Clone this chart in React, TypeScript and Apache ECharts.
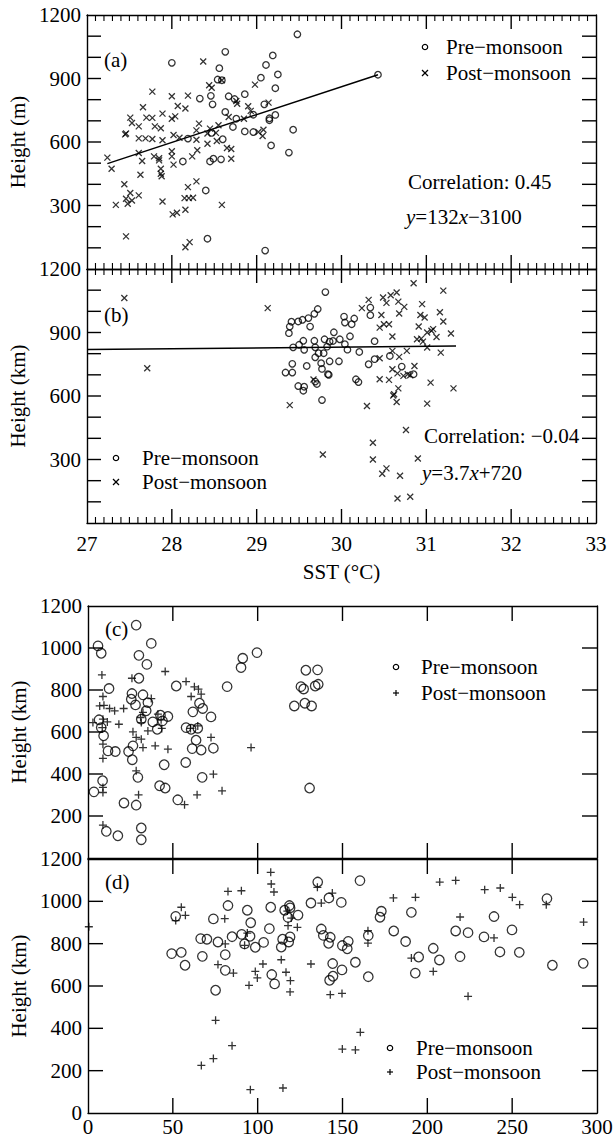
import React, { useEffect, useRef } from 'react';
import * as echarts from 'echarts';

// ---------- data ----------
const sstTicks = [27, 28, 29, 30, 31, 32, 33];
const distTicks = [0, 50, 100, 150, 200, 250, 300];
const heightTicks100 = [100, 200, 300, 400, 500, 600, 700, 800, 900, 1000, 1100];
const heightTicks200 = [200, 400, 600, 800, 1000];
const legendNames = ['Pre−monsoon', 'Post−monsoon'];

const aPre: number[][] = [
  [29.48, 1109], [28.63, 1026], [28.0, 974], [29.19, 1009], [29.11, 964], [29.25, 919], [28.56, 949],
  [28.54, 895], [28.59, 892], [29.05, 904], [29.22, 854], [28.33, 805], [28.46, 818], [28.48, 778],
  [28.67, 816], [28.74, 803], [28.86, 826], [28.63, 742], [28.96, 729], [29.22, 728], [29.15, 703],
  [29.15, 712], [29.09, 778], [28.72, 671], [28.86, 650], [28.47, 643], [29.43, 658], [29.17, 584],
  [29.38, 550], [28.19, 616], [28.13, 508], [28.45, 508], [28.49, 521], [28.58, 518], [28.4, 371],
  [28.42, 143], [29.1, 87], [28.76, 710], [28.96, 647], [28.6, 613], [30.43, 918],
];
const aPost: number[][] = [
  [28.37, 980], [28.98, 871], [27.77, 838], [28.0, 816], [28.19, 819], [28.44, 868], [28.47, 856],
  [28.07, 770], [28.16, 758], [27.66, 764], [27.89, 734], [27.51, 715], [27.53, 690], [27.7, 715],
  [27.77, 714], [28.0, 710], [28.04, 721], [27.61, 674], [27.8, 674], [27.87, 665], [27.45, 636],
  [27.46, 640], [27.61, 617], [27.69, 617], [27.77, 614], [27.89, 608], [28.02, 633], [28.09, 620],
  [28.29, 655], [28.32, 687], [28.29, 611], [28.42, 640], [28.45, 663], [28.52, 643], [28.55, 679],
  [28.53, 605], [28.67, 718], [28.77, 781], [28.9, 769], [28.93, 747], [28.85, 710], [29.08, 658],
  [29.02, 647], [29.07, 628], [29.14, 786], [28.42, 592], [28.3, 561], [28.24, 532], [28.0, 532],
  [28.0, 556], [28.02, 493], [27.79, 532], [27.85, 523], [27.85, 513], [27.65, 510], [27.61, 548],
  [27.24, 526], [27.29, 474], [27.87, 474], [27.87, 450], [27.88, 438], [27.63, 445], [28.65, 572],
  [28.7, 567], [28.7, 521], [27.44, 400], [27.51, 359], [27.34, 303], [27.48, 308], [27.53, 324],
  [27.46, 332], [27.61, 348], [27.89, 319], [28.19, 387], [28.29, 414], [28.15, 335], [28.2, 335],
  [28.25, 337], [28.59, 303], [28.01, 258], [28.06, 266], [28.16, 280], [27.46, 154], [28.16, 103],
  [28.21, 127], [28.59, 892], [28.76, 794],
];
const aFit: number[][] = [[27.24, 498], [30.43, 918]];

const bPre: number[][] = [
  [29.81, 1091], [30.03, 975], [30.04, 947], [30.12, 939], [30.15, 966], [30.34, 1018], [30.34, 982],
  [29.91, 901], [30.1, 882], [29.8, 868], [29.83, 833], [29.86, 857], [29.9, 860], [29.98, 868],
  [30.04, 845], [30.07, 819], [30.21, 808], [30.39, 859], [29.79, 802], [29.86, 764], [29.97, 764],
  [30.32, 750], [30.39, 774], [30.71, 739], [30.57, 789], [30.85, 703], [29.84, 703], [30.17, 679],
  [30.2, 666], [29.77, 581], [29.72, 1011], [29.68, 988], [29.61, 968], [29.54, 960], [29.49, 952],
  [29.41, 951], [29.39, 928], [29.63, 928], [29.38, 897], [29.55, 861], [29.68, 861], [29.43, 830],
  [29.5, 842], [29.56, 818], [29.69, 830], [29.73, 802], [29.69, 783], [29.42, 752], [29.59, 742],
  [29.76, 755], [29.77, 728], [29.85, 700], [29.34, 711], [29.42, 711], [29.49, 647], [29.56, 644],
  [29.55, 625], [29.69, 668], [29.71, 657],
];
const bPost: number[][] = [
  [27.44, 1063], [29.13, 1015], [27.71, 731], [29.39, 557], [29.78, 324], [29.67, 678],
  [30.85, 1133], [31.2, 1098], [30.32, 1054], [30.24, 1015], [30.49, 1065], [30.58, 1076], [30.65, 1089],
  [30.53, 1040], [30.67, 1046], [30.74, 1021], [30.68, 990], [30.95, 1034], [30.93, 983], [30.98, 971],
  [31.16, 996], [31.2, 952], [30.47, 983], [30.45, 923], [30.5, 939], [30.56, 939], [30.6, 881],
  [30.91, 928], [31.08, 916], [31.06, 908], [31.01, 900], [31.12, 879], [30.89, 868], [30.94, 871],
  [30.96, 857], [31.29, 895], [31.01, 829], [31.17, 805], [30.6, 813], [30.68, 785], [30.77, 813],
  [30.45, 778], [30.6, 726], [30.66, 707], [30.73, 695], [30.86, 742], [30.78, 703], [30.81, 698],
  [30.45, 679], [30.56, 676], [31.05, 663], [31.32, 636], [30.67, 636], [30.62, 608], [30.61, 602],
  [30.65, 572], [30.3, 553], [31.01, 564], [30.76, 439], [30.37, 379], [30.37, 300], [30.9, 305],
  [30.48, 233], [30.53, 258], [30.69, 223], [30.66, 116], [30.81, 124],
];
const bFit: number[][] = [[27.0, 820], [31.35, 836]];

const cPre: number[][] = [
  [28.4, 1109], [5.9, 1010], [7.8, 975], [37.3, 1022], [30, 965], [34.7, 922], [30, 856], [12.4, 807],
  [52, 819], [82, 816], [25.9, 783], [32.4, 777], [25.5, 756], [28, 729], [35.3, 740], [34.3, 701],
  [42.7, 680], [47.1, 674], [31.4, 661], [38.2, 648], [40.8, 613], [43.9, 653], [6.5, 658], [7.8, 621],
  [9.2, 582], [61.8, 696], [65.7, 737], [67.6, 712], [72.5, 672], [57.8, 621], [60.8, 613], [64.7, 618],
  [63.7, 561], [61.4, 521], [66.7, 514], [73.9, 523], [11.8, 510], [16.1, 507], [23.9, 507], [26.5, 534],
  [26.1, 468], [44.9, 444], [57.6, 455], [29.4, 384], [67.3, 384], [8.6, 368], [3.5, 315], [42.2, 344],
  [45.5, 333], [21.2, 262], [28.4, 252], [52.9, 277], [10.8, 127], [17.6, 106], [31.4, 143], [31.4, 87],
  [90.2, 907], [91.2, 951], [99.6, 978], [128.4, 894], [135.3, 896], [125.5, 816], [127.1, 805],
  [133.9, 819], [135.7, 827], [121.6, 724], [127.8, 737], [131.8, 724], [130.6, 333],
];
const cPost: number[][] = [
  [8.2, 872], [25.9, 856], [45.5, 888], [57.8, 840], [62.7, 815], [60.8, 769], [65.1, 804], [66.7, 780],
  [8.8, 769], [6.9, 724], [9.4, 727], [12.7, 712], [15.7, 701], [21, 712], [37.3, 759], [2.9, 645],
  [8.8, 661], [11.4, 648], [18.2, 637], [8.4, 621], [26.5, 601], [32.4, 693], [31, 669], [31.4, 645],
  [35.3, 605], [41.2, 685], [43.1, 658], [43.5, 617], [28.4, 574], [31.4, 566], [32.4, 526], [39.6, 534],
  [47.1, 518], [8.8, 542], [8.8, 474], [60.4, 617], [64.7, 629], [72.5, 574], [96.1, 526], [28.4, 415],
  [8.8, 336], [8.8, 312], [73.9, 399], [79, 320], [64.3, 301], [29.8, 301], [56.9, 254], [8.8, 157],
];

const dPre: number[][] = [
  [51.7, 929], [49.3, 753], [55, 759], [57.2, 698], [66.4, 824], [70.1, 821], [67.4, 740], [73.9, 917],
  [75.2, 580], [76.6, 808], [80.9, 748], [80.9, 674], [82.5, 980], [84.9, 833], [90.6, 844], [92.3, 799],
  [93.9, 958], [95.5, 835], [95.9, 899], [98.6, 783], [103.5, 806], [106.9, 871], [107.7, 972],
  [108.3, 654], [110, 610], [113.9, 784], [114.7, 821], [115.9, 958], [118.7, 980], [119.1, 969],
  [118.3, 808], [119.1, 832], [117.9, 924], [123.8, 935], [131.4, 992], [135.4, 1091], [137.5, 869],
  [138.7, 839], [141.8, 802], [142.8, 830], [142, 1016], [144.2, 706], [144.4, 646], [142.4, 627],
  [149.3, 995], [149.9, 791], [152.8, 776], [153.4, 811], [149.7, 676], [157.6, 712], [160.3, 1098],
  [165.2, 838], [165.2, 644], [172.1, 925], [172.9, 953], [180.2, 860], [187.2, 810], [190.6, 948],
  [192.9, 661], [194.9, 737], [203.5, 778], [207.1, 723], [216.7, 860], [219.3, 739], [224, 852],
  [233.4, 832], [239.3, 928], [242.8, 761], [249.9, 865], [254.2, 759], [270.5, 1013], [273.7, 698],
  [291.9, 707],
];
const dPost: number[][] = [
  [107.7, 1137], [108, 1082], [109.6, 1044], [82.5, 1047], [90.4, 1050], [55, 972], [57.4, 934],
  [51.7, 909], [80.6, 918], [80.9, 799], [76.6, 701], [85.7, 661], [93.9, 850], [92.3, 792], [94.9, 603],
  [98.6, 669], [99.8, 638], [103.1, 704], [113.9, 724], [116.7, 665], [119.3, 625], [119.1, 572],
  [117.9, 885], [123.4, 877], [119.8, 921], [117.5, 954], [135.2, 1066], [137.5, 992], [144, 1039],
  [131.4, 704], [142.8, 559], [149.7, 565], [165, 861], [165, 803], [180, 1016], [193, 1019],
  [190.6, 732], [203.5, 669], [207.3, 1091], [216.7, 1099], [219.3, 926], [224, 551], [233.8, 1055],
  [243, 1063], [239.3, 827], [250.1, 1019], [254.4, 984], [270.1, 984], [292.1, 902], [75.2, 438],
  [84.9, 318], [66.8, 225], [73.9, 257], [95.7, 110], [114.9, 118], [149.9, 302], [157.6, 298],
  [160.5, 381], [0.5, 880],
];

// ---------- styling ----------
const FONT = 'Liberation Serif';
const FS = 21;
const CROSS = 'path://M0,0L10,10M10,0L0,10';
const PLUS = 'path://M5,0L5,10M0,5L10,5';
const BLACK = '#000';

const grids = [
  { left: 87, top: 15, width: 509, height: 254 },
  { left: 87, top: 269, width: 509, height: 254 },
  { left: 88, top: 606, width: 509, height: 252 },
  { left: 88, top: 859, width: 509, height: 254 },
];

function xPair(gi: number, sst: boolean, labels: boolean) {
  const base: any = {
    type: 'value',
    gridIndex: gi,
    min: sst ? sstTicks[0] : distTicks[0],
    max: sst ? sstTicks[sstTicks.length - 1] : distTicks[distTicks.length - 1],
    interval: sst ? 1 : 50,
    splitLine: { show: false },
    minorSplitLine: { show: false },
    axisLine: { show: true, onZero: false, lineStyle: { color: BLACK, width: 1.4 } },
    axisTick: { show: false },
    minorTick: { show: false },
  };
  const bottom = {
    ...base,
    position: 'bottom',
    axisLabel: { show: labels, margin: sst ? 10 : 3, fontSize: FS, fontFamily: FONT, color: BLACK },
    name: labels && sst ? 'SST (°C)' : '',
    nameLocation: 'middle',
    nameGap: 38,
    nameTextStyle: { fontSize: FS, fontFamily: FONT, color: BLACK },
  };
  const top = { ...base, position: 'top', axisLabel: { show: false } };
  return [bottom, top];
}

function yPair(gi: number, step: number, labelStep: number, hideZero: boolean, name: string) {
  const base: any = {
    type: 'value',
    gridIndex: gi,
    min: 0,
    max: 1200,
    interval: step,
    splitLine: { show: false },
    axisLine: { show: true, onZero: false, lineStyle: { color: BLACK, width: 1.4 } },
    axisTick: { show: false },
  };
  const left = {
    ...base,
    position: 'left',
    axisLabel: {
      margin: 6,
      fontSize: FS,
      fontFamily: FONT,
      color: BLACK,
      formatter: (v: number) => (v % labelStep === 0 && !(hideZero && v === 0) ? String(v) : ''),
    },
    name,
    nameLocation: 'middle',
    nameGap: 57,
    nameTextStyle: { fontSize: FS, fontFamily: FONT, color: BLACK },
  };
  const right = { ...base, position: 'right', axisLabel: { show: false } };
  return [left, right];
}

function scatter(name: string, gi: number, data: number[][], symbol: string, size: number) {
  return {
    type: 'scatter',
    name,
    xAxisIndex: gi * 2,
    yAxisIndex: gi * 2,
    data,
    symbol,
    symbolSize: size,
    itemStyle: { color: 'rgba(0,0,0,0)', borderColor: BLACK, borderWidth: 1.3 },
    emphasis: { disabled: true },
    silent: true,
  };
}

function fitLine(gi: number, data: number[][]) {
  return {
    type: 'line',
    name: 'fit' + gi,
    xAxisIndex: gi * 2,
    yAxisIndex: gi * 2,
    data,
    symbol: 'none',
    lineStyle: { color: BLACK, width: 1.5 },
    silent: true,
  };
}

// tick marks drawn as thin filled rectangles, placed by the axes' own scales
function tickMarks(gi: number, data: number[][], size: number[], offset: number[]) {
  return {
    type: 'scatter',
    name: 'ticks',
    xAxisIndex: gi * 2,
    yAxisIndex: gi * 2,
    data,
    symbol: 'rect',
    symbolSize: size,
    symbolOffset: offset,
    clip: false,
    z: 5,
    itemStyle: { color: BLACK, borderWidth: 0, opacity: 1 },
    emphasis: { disabled: true },
    silent: true,
  };
}

function panelTickSeries(gi: number) {
  const sst = gi < 2;
  const xs = sst ? sstTicks : distTicks;
  const x0 = xs[0];
  const x1 = xs[xs.length - 1];
  const L = sst ? 14 : 15;
  const W = 1.4;
  const major = xs.slice(1, -1);
  const ys = sst ? heightTicks100 : heightTicks200;
  const out: any[] = [
    tickMarks(gi, major.map((v) => [v, 0]), [W, L], [0, -L / 2]),
    tickMarks(gi, major.map((v) => [v, 1200]), [W, L], [0, L / 2]),
    tickMarks(gi, ys.map((v) => [x0, v]), [L, W], [L / 2, 0]),
    tickMarks(gi, ys.map((v) => [x1, v]), [L, W], [-L / 2, 0]),
  ];
  if (sst) {
    const minor: number[] = [];
    for (let i = 0; i < xs.length - 1; i++) {
      for (let k = 1; k < 10; k++) minor.push(xs[i] + ((xs[i + 1] - xs[i]) * k) / 10);
    }
    out.push(tickMarks(gi, minor.map((v) => [v, 0]), [1.1, 6], [0, -3]));
    out.push(tickMarks(gi, minor.map((v) => [v, 1200]), [1.1, 6], [0, 3]));
  }
  return out;
}

function txt(text: string, left: number, cy: number) {
  return {
    type: 'text',
    left,
    top: cy - 11,
    silent: true,
    style: {
      text,
      fontSize: FS,
      fontFamily: FONT,
      fill: BLACK,
      rich: { i: { fontStyle: 'italic', fontSize: FS, fontFamily: FONT, fill: BLACK } },
    },
  };
}

const lineEl = (x1: number, y1: number, x2: number, y2: number, w = 1.2) => ({
  type: 'line',
  silent: true,
  shape: { x1, y1, x2, y2 },
  style: { stroke: BLACK, lineWidth: w },
});

// legend drawn as graphic: circle marker row + cross/plus marker row
function legendBlock(cx: number, cy1: number, cy2: number, tx: number, plus: boolean) {
  const h = 3;
  const mark = plus
    ? [lineEl(cx - h, cy2, cx + h, cy2), lineEl(cx, cy2 - h, cx, cy2 + h)]
    : [lineEl(cx - h, cy2 - h, cx + h, cy2 + h), lineEl(cx - h, cy2 + h, cx + h, cy2 - h)];
  return [
    { type: 'circle', silent: true, shape: { cx, cy: cy1, r: 2.7 }, style: { stroke: BLACK, lineWidth: 1.2, fill: 'none' } },
    ...mark,
    txt(legendNames[0], tx, cy1),
    txt(legendNames[1], tx, cy2),
  ];
}

export default function App() {
  const ref = useRef<HTMLDivElement>(null);
  useEffect(() => {
    document.body.style.margin = '0';
    if (!ref.current) return;
    const chart = echarts.init(ref.current, null, { renderer: 'svg' });
    const option: any = {
      animation: false,
      backgroundColor: '#fff',
      textStyle: { fontFamily: FONT, color: BLACK },
      grid: grids.map((g) => ({ ...g, containLabel: false, outerBoundsMode: 'none' })),
      xAxis: [
        ...xPair(0, true, false),
        ...xPair(1, true, true),
        ...xPair(2, false, false),
        ...xPair(3, false, true),
      ],
      yAxis: [
        ...yPair(0, 100, 300, true, 'Height (m)'),
        ...yPair(1, 100, 300, true, 'Height (km)'),
        ...yPair(2, 200, 200, true, 'Height (km)'),
        ...yPair(3, 200, 200, false, 'Height (km)'),
      ],
      series: [
        scatter('Pre−monsoon (a)', 0, aPre, 'circle', 6.5),
        scatter('Post−monsoon (a)', 0, aPost, CROSS, 6),
        fitLine(0, aFit),
        scatter('Pre−monsoon (b)', 1, bPre, 'circle', 6.5),
        scatter('Post−monsoon (b)', 1, bPost, CROSS, 6),
        fitLine(1, bFit),
        scatter('Pre−monsoon (c)', 2, cPre, 'circle', 9.5),
        scatter('Post−monsoon (c)', 2, cPost, PLUS, 8),
        scatter('Pre−monsoon (d)', 3, dPre, 'circle', 9.5),
        scatter('Post−monsoon (d)', 3, dPost, PLUS, 8),
        ...panelTickSeries(0),
        ...panelTickSeries(1),
        ...panelTickSeries(2),
        ...panelTickSeries(3),
      ],
      graphic: [
        txt('(a)', 104, 60),
        txt('Correlation: 0.45', 408, 182),
        txt('{i|y}=132{i|x}−3100', 406, 217),
        txt('(b)', 104, 315),
        txt('Correlation: −0.04', 424, 436),
        txt('{i|y}=3.7{i|x}+720', 422, 473),
        txt('(c)', 105, 629),
        txt('(d)', 105, 882),
        ...legendBlock(425, 47, 73, 446, false),
        ...legendBlock(116, 458, 482, 142, false),
        ...legendBlock(396, 667, 693, 421, true),
        ...legendBlock(390, 1048, 1072, 416, true),
      ],
    };
    chart.setOption(option);
    return () => chart.dispose();
  }, []);
  return <div ref={ref} style={{ width: 616, height: 1139 }} />;
}
